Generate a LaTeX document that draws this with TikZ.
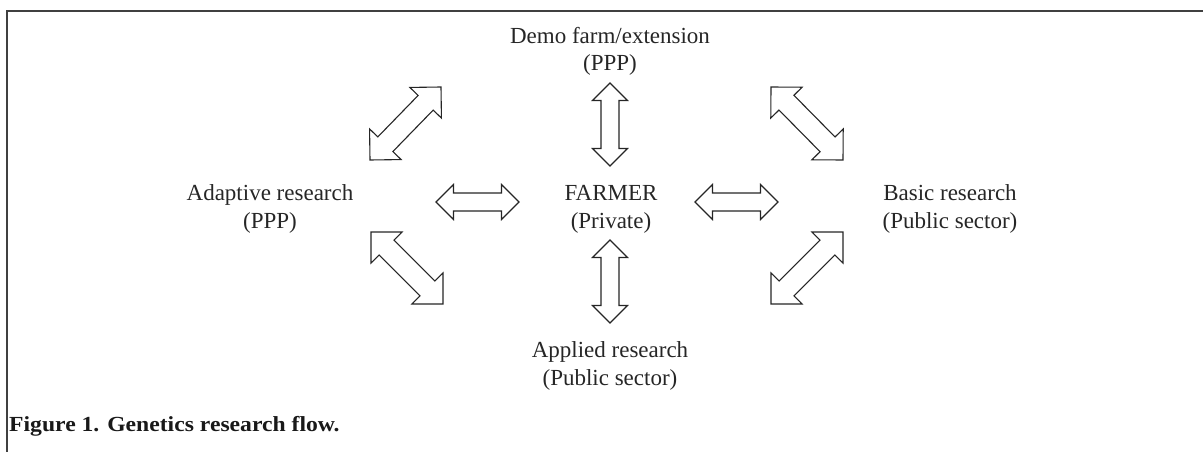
\documentclass[tikz,border=0pt]{standalone}
\usepackage{fontspec}
\setmainfont{Liberation Serif}
\newfontfamily\capfont[FakeStretch=1.1]{Liberation Serif}
\usetikzlibrary{calc}
\newcommand{\dblarr}[5]{% from, to, L, H, S
  \draw[arrowline] (#1)
   -- ($(#1)!#3pt!(#2)!#4pt!90:(#2)$)
   -- ($(#1)!#3pt!(#2)!#5pt!90:(#2)$)
   -- ($(#2)!#3pt!(#1)!#5pt!-90:(#1)$)
   -- ($(#2)!#3pt!(#1)!#4pt!-90:(#1)$)
   -- (#2)
   -- ($(#2)!#3pt!(#1)!#4pt!90:(#1)$)
   -- ($(#2)!#3pt!(#1)!#5pt!90:(#1)$)
   -- ($(#1)!#3pt!(#2)!#5pt!-90:(#2)$)
   -- ($(#1)!#3pt!(#2)!#4pt!-90:(#2)$)
   -- cycle;}
\tikzset{
  lbl/.style={align=center, inner sep=0pt, anchor=base, font=\fontsize{23}{28}\selectfont, text=black!85},
  arrowline/.style={draw=black!85, line width=1.1pt, line join=miter, fill=white},
  frame/.style={draw=black!75, line width=1.6pt}
}
\begin{document}
\begin{tikzpicture}[x=1pt,y=-1pt]
\useasboundingbox (0,0) rectangle (1203,452);
\coordinate (fTL) at (7,11);
\coordinate (fTR) at (1203,11);
\coordinate (fBL) at (7,452);
\draw[frame] (fTR) -- (fTL) -- (fBL);

% anchor=base refers to the baseline of the last line
\node[lbl] (demo) at (610,71) {Demo farm/extension\\(PPP)};
\node[lbl] (adapt) at (270,228) {Adaptive research\\(PPP)};
\node[lbl] (farmer) at (611,228) {FARMER\\(Private)};
\node[lbl] (basic) at (950,228) {Basic research\\(Public sector)};
\node[lbl] (applied) at (610,385) {Applied research\\(Public sector)};
\node[anchor=base west, inner sep=0pt, font=\capfont\fontsize{21.5}{25}\selectfont\bfseries, text=black!90] (cap) at (9,431) {Figure 1. Genetics research flow.};

% vertical and horizontal arrows
\coordinate (t1) at (610,83);  \coordinate (t2) at (610,166);
\coordinate (b1) at (610,240); \coordinate (b2) at (610,323);
\coordinate (l1) at (436,202); \coordinate (l2) at (519,202);
\coordinate (r1) at (695,202); \coordinate (r2) at (778,202);
\dblarr{t1}{t2}{17.5}{17.5}{9}
\dblarr{b1}{b2}{17.5}{17.5}{9}
\dblarr{l1}{l2}{17.5}{17.5}{9}
\dblarr{r1}{r2}{17.5}{17.5}{9}

% diagonal arrows
\coordinate (d1a) at (370,160); \coordinate (d1b) at (441,87);
\coordinate (d2a) at (771,87);  \coordinate (d2b) at (843,160);
\coordinate (d3a) at (371,232); \coordinate (d3b) at (443,304);
\coordinate (d4a) at (771,304); \coordinate (d4b) at (843,232);
\dblarr{d1a}{d1b}{22}{22}{10.5}
\dblarr{d2a}{d2b}{22}{22}{10.5}
\dblarr{d3a}{d3b}{22}{22}{10.5}
\dblarr{d4a}{d4b}{22}{22}{10.5}
\end{tikzpicture}
\end{document}
